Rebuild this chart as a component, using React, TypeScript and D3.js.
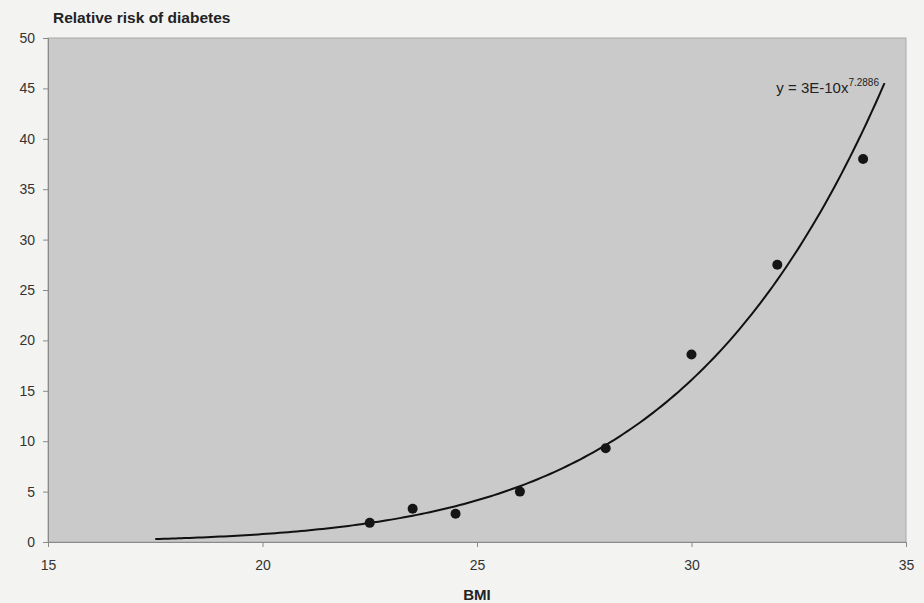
import React, { useRef, useEffect } from 'react';
import * as d3 from 'd3';

// observed BMI / relative risk points
const bmi = [22.5, 23.5, 24.5, 26, 28, 30, 32, 34];
const relativeRisk = [1.9, 3.3, 2.8, 5.0, 9.3, 18.6, 27.5, 38.0];

const xTicks = [15, 20, 25, 30, 35];
const yTicks = [0, 5, 10, 15, 20, 25, 30, 35, 40, 45, 50];

// power trendline range (Excel forecast back/forward)
const trendRange = [17.5, 34.5];
const trendLabel = 'y = 3E-10x';
const trendExponentLabel = '7.2886';

const App = () => {
    const ref = useRef<SVGSVGElement>(null);

    useEffect(() => {
        const svg = d3.select(ref.current)
            .attr('width', 924)
            .attr('height', 603);

        svg.selectAll('*').remove();

        const margin = { top: 38, right: 18, bottom: 61, left: 48 };
        const width = 924 - margin.left - margin.right;
        const height = 603 - margin.top - margin.bottom;
        const font = 'Liberation Sans, Arial, sans-serif';

        svg.append('rect')
            .attr('width', 924)
            .attr('height', 603)
            .attr('fill', '#f3f3f1');

        const g = svg.append('g')
            .attr('transform', `translate(${margin.left},${margin.top})`);

        const x = d3.scaleLinear().domain([15, 35]).range([0, width]);
        const y = d3.scaleLinear().domain([0, 50]).range([height, 0]);

        // plot area
        g.append('rect')
            .attr('width', width)
            .attr('height', height)
            .attr('fill', '#cacaca')
            .attr('stroke', '#a9a9a9')
            .attr('stroke-width', 1);

        // axes
        const xAxis = g.append('g')
            .attr('transform', `translate(0,${height})`)
            .call(d3.axisBottom(x).tickValues(xTicks).tickSize(5).tickPadding(13));
        const yAxis = g.append('g')
            .call(d3.axisLeft(y).tickValues(yTicks).tickSize(5).tickPadding(8));

        [xAxis, yAxis].forEach(a => {
            a.select('.domain').attr('stroke', '#8a8a8a');
            a.selectAll('.tick line').attr('stroke', '#8a8a8a');
            a.selectAll('.tick text')
                .attr('fill', '#333')
                .attr('font-family', font)
                .attr('font-size', 14);
        });

        // power regression fit on ln-ln scale
        const lx = bmi.map(Math.log);
        const ly = relativeRisk.map(Math.log);
        const mx = d3.mean(lx) as number;
        const my = d3.mean(ly) as number;
        const b = d3.sum(lx, (v, i) => (v - mx) * (ly[i] - my)) / d3.sum(lx, v => (v - mx) ** 2);
        const a = Math.exp(my - b * mx);

        const trendX = d3.range(trendRange[0], trendRange[1] + 0.001, 0.1);
        const line = d3.line<number>()
            .x(d => x(d))
            .y(d => y(a * Math.pow(d, b)))
            .curve(d3.curveBasis);

        g.append('path')
            .datum(trendX)
            .attr('d', line)
            .attr('fill', 'none')
            .attr('stroke', '#111')
            .attr('stroke-width', 2);

        // points
        g.selectAll('.dot')
            .data(bmi)
            .enter().append('circle')
            .attr('class', 'dot')
            .attr('cx', d => x(d))
            .attr('cy', (d, i) => y(relativeRisk[i]))
            .attr('r', 5)
            .attr('fill', '#151515');

        // equation label
        const eq = g.append('text')
            .attr('x', width - 27)
            .attr('y', 55)
            .attr('text-anchor', 'end')
            .attr('font-family', font)
            .attr('font-size', 15)
            .attr('fill', '#222');
        eq.append('tspan').text(trendLabel);
        eq.append('tspan')
            .attr('font-size', 10)
            .attr('dy', -7)
            .text(trendExponentLabel);

        // titles
        svg.append('text')
            .attr('x', 53)
            .attr('y', 23)
            .attr('font-family', font)
            .attr('font-weight', 'bold')
            .attr('font-size', 15.5)
            .attr('fill', '#222')
            .text('Relative risk of diabetes');

        svg.append('text')
            .attr('x', margin.left + width / 2)
            .attr('y', 600)
            .attr('text-anchor', 'middle')
            .attr('font-family', font)
            .attr('font-weight', 'bold')
            .attr('font-size', 15)
            .attr('fill', '#222')
            .text('BMI');
    }, []);

    return (
        <svg ref={ref} style={{ position: 'absolute', left: 0, top: 0 }}></svg>
    );
};

export default App;
